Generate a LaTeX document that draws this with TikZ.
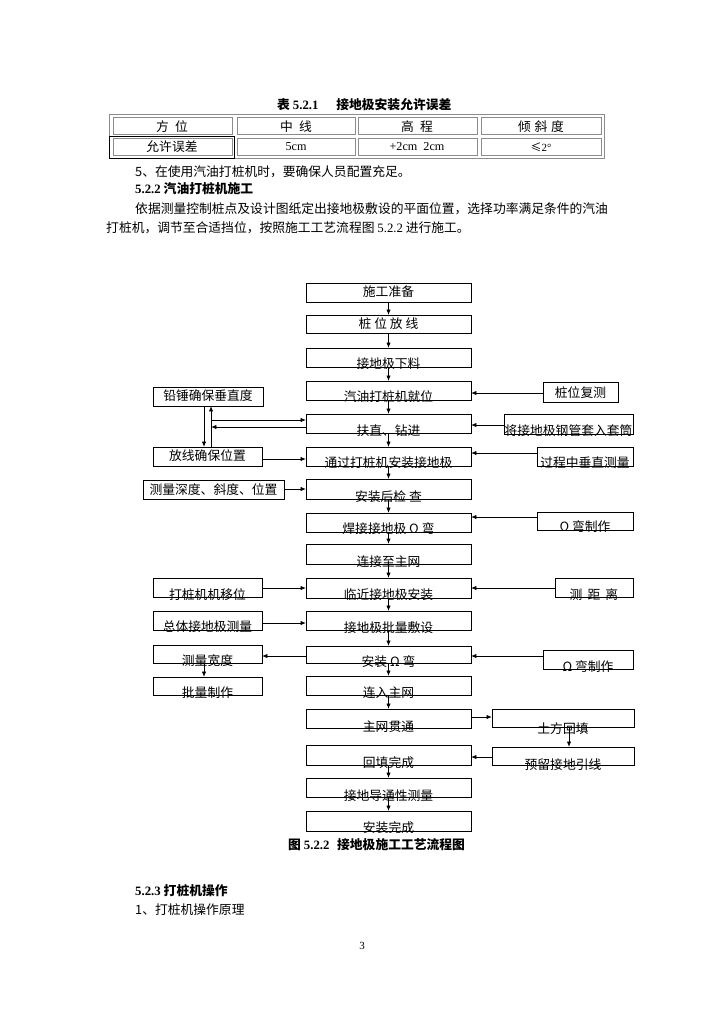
\documentclass[tikz,border=0pt]{standalone}
\usepackage{fontspec}
\setmainfont{Liberation Serif}
\newfontfamily\cjk{Noto Sans CJK SC}
\usetikzlibrary{arrows.meta}
\def\pxu{0.8218pt}
\tikzset{
 flb/.style={draw, line width=0.7pt, inner sep=0pt, outer sep=0pt, rectangle},
 ftx/.style={inner sep=0pt, font=\cjk\fontsize{10.5}{12}\selectfont},
 arr/.style={line width=0.7pt, -{Latex[length=4.5pt,width=3.6pt]}},
 ptx/.style={inner sep=0pt, anchor=west, font=\cjk\fontsize{10.5}{12}\selectfont},
 tgray/.style={draw=black!45, line width=0.5pt},
}
\newcommand\flbox[7]{%
  \node[flb, minimum width={(#4-#2)*\pxu}, minimum height={(#5-#3)*\pxu}] (#1) at ({(#2+#4)/2},{(#3+#5)/2}) {};
  \node[ftx] (#1-t) at ({(#2+#4)/2},#6) {#7};
}
\begin{document}
\begin{tikzpicture}[x=0.8218pt, y=-0.8218pt]
\useasboundingbox[fill=white] (0,0) rectangle (724,1024);

% ---- table caption
\node[ptx, font=\cjk\bfseries\fontsize{10.5}{12}\selectfont] (tcap) at (277,105) {表 {\rmfamily\bfseries 5.2.1}\hspace{1.4em}接地极安装允许误差};

% ---- table
\draw[tgray] (109,114) rectangle (604,158);
\foreach \a/\b in {113/232,237/355,358/477,481/601}{
  \draw[tgray] (\a,117) rectangle (\b,134);
  \draw[tgray] (\a,138) rectangle (\b,155);
}
\draw[line width=0.6pt] (109,136) rectangle (234,158);
\node[ftx] (t11) at (172,127) {方\hspace{0.5em}位};
\node[ftx] (t12) at (296,127) {中\hspace{0.5em}线};
\node[ftx] (t13) at (417,127) {高\hspace{0.5em}程};
\node[ftx] (t14) at (541,127) {倾\hspace{0.3em}斜\hspace{0.3em}度};
\node[ftx] (t21) at (172,147) {允许误差};
\node[inner sep=0pt, font=\fontsize{10}{12}\selectfont] (t22) at (296,147) {5cm};
\node[inner sep=0pt, font=\fontsize{10}{12}\selectfont] (t23) at (417,147) {+2cm\ \ 2cm};
\node[inner sep=0pt, font=\fontsize{9}{12}\selectfont] (t24) at (541,147) {\cjk ≤\rmfamily 2°};

% ---- body text
\node[ptx] (p1) at (135,172) {5、在使用汽油打桩机时，要确保人员配置充足。};
\node[ptx, font=\cjk\bfseries\fontsize{10.5}{12}\selectfont] (p2) at (135,189) {{\rmfamily\bfseries 5.2.2} 汽油打桩机施工};
\node[ptx] (p3) at (135,209) {依据测量控制桩点及设计图纸定出接地极敷设的平面位置，选择功率满足条件的汽油};
\node[ptx] (p4) at (106,228) {打桩机，调节至合适挡位，按照施工工艺流程图 {\rmfamily 5.2.2} 进行施工。};

% ---- centre column
\flbox{sg}{306}{283}{471}{302}{292}{施工准备}
\flbox{zwfx}{306}{315}{471}{333}{324}{桩 位 放 线}
\flbox{xl}{306}{348}{471}{367}{364}{接地极下料}
\flbox{qy}{306}{381}{471}{400}{397}{汽油打桩机就位}
\flbox{fz}{306}{414}{471}{433}{431}{扶直、钻进}
\flbox{tg}{306}{447}{471}{466}{463}{通过打桩机安装接地极}
\flbox{azh}{306}{479}{471}{499}{497}{安装后检 查}
\flbox{hj}{306}{513}{471}{532}{529}{焊接接地极 Ω 弯}
\flbox{ljz}{306}{544}{471}{564}{562}{连接至主网}
\flbox{ljj}{306}{578}{471}{598}{595}{临近接地极安装}
\flbox{plfs}{306}{611}{471}{630}{628}{接地极批量敷设}
\flbox{azo}{306}{646}{471}{663}{662}{安装 Ω 弯}
\flbox{lrzw}{306}{676}{471}{695}{693}{连入主网}
\flbox{zwgt}{306}{709}{471}{728}{727}{主网贯通}
\flbox{htwc}{306}{745}{471}{765}{763}{回填完成}
\flbox{jd}{306}{778}{471}{797}{796}{接地导通性测量}
\flbox{azwc}{306}{811}{471}{831}{828}{安装完成}

% ---- left column
\flbox{qc}{153}{387}{263}{406}{396}{铅锤确保垂直度}
\flbox{fx}{153}{447}{262}{466}{456}{放线确保位置}
\flbox{cls}{143}{480}{284}{499}{490}{测量深度、斜度、位置}
\flbox{yw}{153}{578}{262}{597}{595}{打桩机机移位}
\flbox{zt}{153}{611}{262}{630}{627}{总体接地极测量}
\flbox{clk}{153}{645}{262}{663}{661}{测量宽度}
\flbox{plzz}{153}{677}{262}{695}{693}{批量制作}

% ---- right column
\flbox{zwfc}{543}{382}{618}{402}{393}{桩位复测}
\flbox{jgg}{504}{414}{633}{434}{431}{将接地极钢管套入套筒}
\flbox{gcz}{537}{447}{633}{466}{463}{过程中垂直测量}
\flbox{owza}{537}{512}{633}{530}{527}{Ω 弯制作}
\flbox{cjl}{555}{578}{633}{597}{595}{测\hspace{0.4em}距\hspace{0.4em}离}
\flbox{owzb}{543}{650}{633}{669}{667}{Ω 弯制作}
\flbox{tfht}{492}{709}{634}{727}{729}{土方回填}
\flbox{yl}{492}{747}{634}{765}{765}{预留接地引线}

% ---- centre chain
\foreach \u/\v in {sg/zwfx,zwfx/xl,xl/qy,qy/fz,fz/tg,tg/azh,azh/hj,hj/ljz,ljz/ljj,ljj/plfs,plfs/azo,azo/lrzw,lrzw/zwgt,htwc/jd,jd/azwc}{
  \draw[arr] (\u.south) -- (\v.north);
}

% ---- right inputs
\draw[arr] (zwfc.west |- 0,393) -- (qy.east |- 0,393);
\draw[arr] (jgg.west |- 0,425) -- (fz.east |- 0,425);
\draw[arr] (gcz.west |- 0,453) -- (tg.east |- 0,453);
\draw[arr] (owza.west |- 0,517) -- (hj.east |- 0,517);
\draw[arr] (cjl.west |- 0,588) -- (ljj.east |- 0,588);
\draw[arr] (owzb.west |- 0,656) -- (azo.east |- 0,656);

% ---- left inputs / outputs
\draw[arr] (qc.south -| 204,0) -- (fx.north -| 204,0);
\draw[arr] (fx.north -| 211,0) -- (qc.south -| 211,0);
\coordinate (ja) at (211,420);
\coordinate (jb) at (211,427);
\draw[arr] (ja) -- (fz.west |- ja);
\draw[arr] (fz.west |- jb) -- (jb);
\draw[arr] (fx.east |- 0,459) -- (tg.west |- 0,459);
\draw[arr] (cls.east |- 0,489) -- (azh.west |- 0,489);
\draw[arr] (yw.east |- 0,588) -- (ljj.west |- 0,588);
\draw[arr] (zt.east |- 0,623) -- (plfs.west |- 0,623);
\draw[arr] (azo.west |- 0,656) -- (clk.east |- 0,656);
\draw[arr] (clk.south -| 204,0) -- (plzz.north -| 204,0);

% ---- bottom loop
\draw[arr] (zwgt.east |- 0,717) -- (tfht.west |- 0,717);
\draw[arr] (tfht.south -| 569,0) -- (yl.north -| 569,0);
\draw[arr] (yl.west |- 0,757) -- (htwc.east |- 0,757);

% ---- caption and trailing text
\node[ptx, font=\cjk\bfseries\fontsize{10.5}{12}\selectfont] (fcap) at (288,845) {图 {\rmfamily\bfseries 5.2.2}\hspace{0.6em}接地极施工工艺流程图};
\node[ptx, font=\cjk\bfseries\fontsize{10.5}{12}\selectfont] (p5) at (135,891) {{\rmfamily\bfseries 5.2.3} 打桩机操作};
\node[ptx] (p6) at (135,910) {1、打桩机操作原理};
\node[inner sep=0pt, font=\fontsize{9}{11}\selectfont] (pg) at (362,946) {3};
\end{tikzpicture}
\end{document}
